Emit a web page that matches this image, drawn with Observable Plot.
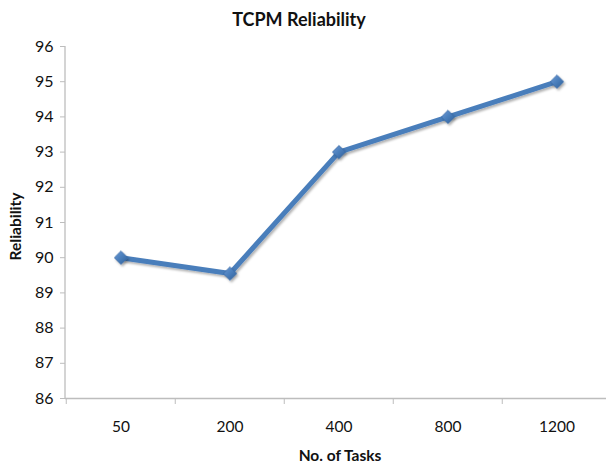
<!DOCTYPE html>
<html>
<head>
<meta charset="utf-8">
<script src="https://cdn.jsdelivr.net/npm/d3@7"></script>
<script src="https://cdn.jsdelivr.net/npm/@observablehq/plot@0.6"></script>
<style>
  html, body { margin: 0; padding: 0; background: #fff; }
  #chart { width: 606px; height: 468px; }
  svg { font-family: Lato, "Open Sans", sans-serif; }
</style>
</head>
<body>
<div id="chart"></div>
<script>
// Reliability of TCPM by number of tasks
const tasks = ["50", "200", "400", "800", "1200"];
const reliability = [90, 89.55, 93, 94, 95];
const yTicks = [86, 87, 88, 89, 90, 91, 92, 93, 94, 95, 96];

const rows = tasks.map((t, i) => ({task: t, value: reliability[i]}));

const xRange = [65, 612.5];
const bw = (xRange[1] - xRange[0]) / tasks.length;
const axisColor = "#bdbdbd";
const lineColor = "#4a7ebb";

const chart = Plot.plot({
  width: 606,
  height: 468,
  marginLeft: 65,
  marginRight: 0,
  marginTop: 46,
  marginBottom: 70,
  style: {fontFamily: "Lato, 'Open Sans', sans-serif", background: "#fff", overflow: "visible"},
  x: {type: "band", domain: tasks, range: xRange, padding: 0},
  y: {domain: [86, 96]},
  marks: [
    // axis lines
    Plot.ruleY([86], {stroke: axisColor, strokeWidth: 1.3}),
    Plot.axisY({
      ticks: yTicks, tickSize: 5, tickPadding: 7, stroke: axisColor,
      fontSize: 16, fill: "#111", label: null, anchor: "left"
    }),
    Plot.axisX({
      tickSize: 6, dx: -bw / 2, stroke: axisColor, text: null, label: null
    }),
    Plot.axisX({
      tickSize: 0, tickPadding: 22, fontSize: 15.5, fill: "#111", label: null
    }),
    // series
    Plot.line(rows, {x: "task", y: "value", stroke: lineColor, strokeWidth: 5, strokeLinejoin: "round", className: "series-line"}),
    Plot.dot(rows, {x: "task", y: "value", symbol: "diamond2", r: 6, fill: "url(#mk)", stroke: "#3a6aa6", strokeWidth: 0.8, className: "series-dot"}),
    // titles
    Plot.text(["TCPM Reliability"], {frameAnchor: "top", dy: -33, dx: -37, fontSize: 18, fontWeight: "bold", fill: "#111"}),
    Plot.text(["No. of Tasks"], {frameAnchor: "bottom", dy: 62, dx: 4, fontSize: 15.5, fontWeight: "bold", fill: "#111"}),
    Plot.text(["Reliability"], {frameAnchor: "left", textAnchor: "middle", rotate: -90, dx: -49, dy: 4, fontSize: 15.5, fontWeight: "bold", fill: "#111"})
  ]
});

// y axis line along the left edge of the frame
const svg = d3.select(chart);
svg.append("line")
  .attr("x1", 65).attr("x2", 65).attr("y1", 46).attr("y2", 398)
  .attr("stroke", axisColor).attr("stroke-width", 1.3);

// marker gradient and soft shadow
const defs = svg.insert("defs", ":first-child");
const g = defs.append("linearGradient").attr("id", "mk")
  .attr("x1", 0).attr("y1", 0).attr("x2", 1).attr("y2", 1);
g.append("stop").attr("offset", "0%").attr("stop-color", "#6d9ad6");
g.append("stop").attr("offset", "50%").attr("stop-color", "#4a7ebb");
g.append("stop").attr("offset", "100%").attr("stop-color", "#2f5f99");
const f = defs.append("filter").attr("id", "sh").attr("x", "-20%").attr("y", "-20%").attr("width", "140%").attr("height", "140%");
f.append("feDropShadow").attr("dx", 1.5).attr("dy", 2).attr("stdDeviation", 1.2)
  .attr("flood-color", "#000").attr("flood-opacity", 0.3);
svg.selectAll(".series-line, .series-dot").attr("filter", "url(#sh)");

document.getElementById("chart").appendChild(chart);
</script>
</body>
</html>
